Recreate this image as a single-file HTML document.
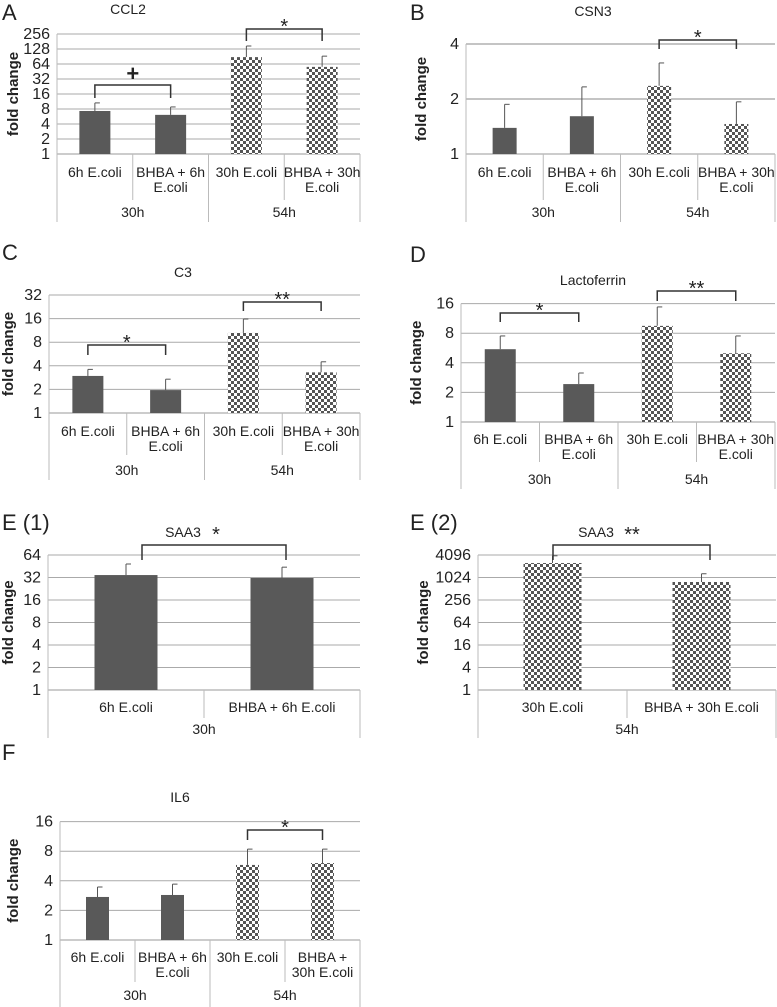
<!DOCTYPE html>
<html><head><meta charset="utf-8">
<style>
html,body{margin:0;padding:0;background:#fff;}
svg{display:block;font-family:"Liberation Sans",Arial,sans-serif;}
</style></head>
<body>
<svg id="fig" width="777" height="1007" viewBox="0 0 777 1007" xmlns="http://www.w3.org/2000/svg">
<defs>
<pattern id="chk" width="6" height="6" patternUnits="userSpaceOnUse">
<rect width="6" height="6" fill="#fff"/>
<rect x="0" y="0" width="3" height="3" fill="#555"/>
<rect x="3" y="3" width="3" height="3" fill="#555"/>
</pattern>
</defs>
</svg>
<script>
// ---- data ----
const catsFour = ["6h E.coli|", "BHBA + 6h|E.coli", "30h E.coli|", "BHBA + 30h|E.coli"];
const catsF = ["6h E.coli|", "BHBA + 6h|E.coli", "30h E.coli|", "BHBA +|30h E.coli"];
const groupsFour = ["30h", "54h"];
const ccl2Values = [7.3, 6.1, 88, 56];
const ccl2ErrTops = [10.6, 8.8, 147, 92];
const ccl2Ticks = [1, 2, 4, 8, 16, 32, 64, 128, 256];
const csn3Values = [1.39, 1.61, 2.36, 1.46];
const csn3ErrTops = [1.87, 2.33, 3.15, 1.93];
const csn3Ticks = [1, 2, 4];
const c3Values = [2.97, 1.96, 10.5, 3.3];
const c3ErrTops = [3.6, 2.7, 15.8, 4.5];
const c3Ticks = [1, 2, 4, 8, 16, 32];
const ltfValues = [5.5, 2.43, 9.5, 5.0];
const ltfErrTops = [7.5, 3.15, 14.8, 7.5];
const ltfTicks = [1, 2, 4, 8, 16];
const saa3aCats = ["6h E.coli", "BHBA + 6h E.coli"];
const saa3aGroups = ["30h"];
const saa3aValues = [34.5, 31.5];
const saa3aErrTops = [48.5, 44];
const saa3aTicks = [1, 2, 4, 8, 16, 32, 64];
const saa3bCats = ["30h E.coli", "BHBA + 30h E.coli"];
const saa3bGroups = ["54h"];
const saa3bValues = [2496, 776];
const saa3bErrTops = [3900, 1290];
const saa3bTicks = [1, 4, 16, 64, 256, 1024, 4096];
const il6Values = [2.74, 2.87, 5.8, 6.06];
const il6ErrTops = [3.46, 3.7, 8.4, 8.4];
const il6Ticks = [1, 2, 4, 8, 16];

const svg = document.getElementById('fig');
const NS = 'http://www.w3.org/2000/svg';
function mk(tag, attrs, parent) {
  const e = document.createElementNS(NS, tag);
  for (const k in attrs) e.setAttribute(k, attrs[k]);
  (parent || svg).appendChild(e);
  return e;
}
function txt(s, x, y, size, anchor, parent, extra) {
  const t = mk('text', Object.assign({x: x, y: y, 'font-size': size, 'text-anchor': anchor || 'middle', fill: '#222'}, extra || {}), parent);
  t.textContent = s;
  return t;
}

function panel(c) {
  const g = mk('g', {});
  
  
  const lb = Math.log(c.base);
  const y = v => c.y1 - Math.log(v) / lb * c.step;
  const n = c.values.length;
  const bw = (c.x1 - c.x0) / n;
  const cx = i => c.x0 + bw * (i + 0.5);
  const L = txt(c.letter, c.lx, c.ly, 22, 'start', g);
  
  
  const T = txt(c.title, c.tx, c.ty, 14, 'middle', g);
  
  
  if (c.titleStar) {
    const S = txt(c.titleStar, c.sx, c.ty + 4, 20, 'middle', g);
    
    
  }
  c.ticks.forEach(t => {
    const yy = y(t);
    const ln = mk('line', {x1: c.x0, x2: c.gx1 || c.x1, y1: yy, y2: yy, stroke: t === 1 ? '#999' : c.gridColor || '#aaa', 'stroke-width': 1}, g);
    
    
    const tl = txt(String(t), c.x0 - 7, yy + 5, 16, 'end', g);
    
    
  });
  const ax = mk('line', {x1: c.x0, x2: c.x0, y1: y(c.ticks[c.ticks.length - 1]), y2: c.y1, stroke: '#bbb'}, g);
  
  
  const yt = txt('fold change', 0, 0, 15, 'middle', g, {'font-weight': 'bold', transform: 'translate(' + c.ytx + ',' + ((y(c.ticks[c.ticks.length - 1]) + c.y1) / 2) + ') rotate(-90)'});
  
  
  const per = n / c.groups.length;
  for (let i = 0; i <= n; i++) {
    const outer = i % per === 0;
    const ln = mk('line', {x1: c.x0 + bw * i, x2: c.x0 + bw * i, y1: c.y1, y2: outer ? c.frameBottom : c.innerBottom, stroke: '#bbb'}, g);
    
    
  }
  c.cats.forEach((s, i) => {
    const parts = s.split('|');
    const t1 = txt(parts[0], cx(i), c.cy1, 14, 'middle', g);
    
    
    if (parts[1]) {
      const t2 = txt(parts[1], cx(i), c.cy2, 14, 'middle', g);
      
      
    }
  });
  c.groups.forEach((s, k) => {
    const gx = c.x0 + bw * per * (k + 0.5);
    const t = txt(s, gx, c.gy, 14, 'middle', g);
    
    
  });
  c.values.forEach((v, i) => {
    const checked = c.pattern[i];
    const x = cx(i) - c.barW / 2;
    const eb = mk('line', {x1: cx(i), x2: cx(i), y1: y(v), y2: y(c.errs[i]), stroke: '#555', 'stroke-width': 1}, g);
    
    
    const cap = mk('line', {x1: cx(i), x2: cx(i) + 5, y1: y(c.errs[i]), y2: y(c.errs[i]), stroke: '#555', 'stroke-width': 1}, g);
    
    
    const r = mk('rect', {x: x, y: y(v), width: c.barW, height: c.y1 - y(v), fill: checked ? 'url(#chk)' : '#595959'}, g);
    
    
  });
  (c.brackets || []).forEach(b => {
    const xa = b.xa != null ? b.xa : cx(b.i);
    const xb = b.xb != null ? b.xb : cx(b.j);
    const p = mk('path', {d: 'M' + xa + ' ' + b.bot + ' V' + b.y + ' H' + xb + ' V' + b.bot, fill: 'none', stroke: '#333', 'stroke-width': 1.5}, g);
    
    
    if (b.label) {
      const t = txt(b.label, (xa + xb) / 2, b.y - (b.label === '+' ? 4 : -4), b.label === '+' ? 22 : 20, 'middle', g, {'font-weight': b.label === '+' ? 'bold' : 'normal'});
      
      
    }
  });
}

panel({name: 'panel-a-ccl2', letter: 'A', lx: 2, ly: 20, title: 'CCL2', tx: 128, ty: 14,
  x0: 57, x1: 360, y1: 154, step: 15, base: 2, ticks: ccl2Ticks, values: ccl2Values, errs: ccl2ErrTops,
  barW: 31, pattern: [0, 0, 1, 1], cats: catsFour, groups: groupsFour, cy1: 177, cy2: 192, gy: 217,
  frameBottom: 222, innerBottom: 200, ytx: 18,
  brackets: [{i: 0, j: 1, y: 85, bot: 98, label: '+'}, {i: 2, j: 3, y: 29, bot: 41, label: '*'}]});

panel({name: 'panel-b-csn3', letter: 'B', lx: 410, ly: 20, title: 'CSN3', tx: 593, ty: 16,
  x0: 466, x1: 775, y1: 154, step: 55, base: 2, ticks: csn3Ticks, values: csn3Values, errs: csn3ErrTops,
  barW: 24, pattern: [0, 0, 1, 1], cats: catsFour, groups: groupsFour, cy1: 177, cy2: 192, gy: 217,
  frameBottom: 222, innerBottom: 200, ytx: 426, gridColor: '#888',
  brackets: [{i: 2, j: 3, y: 40, bot: 49, label: '*'}]});

panel({name: 'panel-c-c3', letter: 'C', lx: 2, ly: 260, title: 'C3', tx: 183, ty: 277,
  x0: 49, x1: 360, y1: 413, step: 23.6, base: 2, ticks: c3Ticks, values: c3Values, errs: c3ErrTops,
  barW: 31, pattern: [0, 0, 1, 1], cats: catsFour, groups: groupsFour, cy1: 436, cy2: 451, gy: 475,
  frameBottom: 480, innerBottom: 455, ytx: 13,
  brackets: [{i: 0, j: 1, y: 345, bot: 355, label: '*'}, {i: 2, j: 3, y: 302, bot: 311, label: '**'}]});

panel({name: 'panel-d-lactoferrin', letter: 'D', lx: 410, ly: 262, title: 'Lactoferrin', tx: 593, ty: 285,
  x0: 461, x1: 775, y1: 422, step: 29.6, base: 2, ticks: ltfTicks, values: ltfValues, errs: ltfErrTops,
  barW: 31, pattern: [0, 0, 1, 1], cats: catsFour, groups: groupsFour, cy1: 444, cy2: 459, gy: 484,
  frameBottom: 489, innerBottom: 462, ytx: 421,
  brackets: [{i: 0, j: 1, y: 313, bot: 322, label: '*'}, {i: 2, j: 3, y: 291, bot: 301, label: '**'}]});

panel({name: 'panel-e1-saa3', letter: 'E (1)', lx: 2, ly: 530, title: 'SAA3', tx: 183, ty: 537, titleStar: '*', sx: 216,
  x0: 48, x1: 360, y1: 690, step: 22.5, base: 2, ticks: saa3aTicks, values: saa3aValues, errs: saa3aErrTops,
  barW: 63, pattern: [0, 0], cats: saa3aCats, groups: saa3aGroups, cy1: 712, cy2: 0, gy: 734,
  frameBottom: 738, innerBottom: 718, ytx: 13,
  brackets: [{i: 0, j: 1, xa: 142, xb: 286, y: 545, bot: 560, label: ''}]});

panel({name: 'panel-e2-saa3', letter: 'E (2)', lx: 410, ly: 530, title: 'SAA3', tx: 596, ty: 537, titleStar: '**', sx: 632,
  x0: 478, x1: 776, y1: 690, step: 22.5, base: 4, ticks: saa3bTicks, values: saa3bValues, errs: saa3bErrTops,
  barW: 58, pattern: [1, 1], cats: saa3bCats, groups: saa3bGroups, cy1: 712, cy2: 0, gy: 734,
  frameBottom: 738, innerBottom: 718, ytx: 428,
  brackets: [{i: 0, j: 1, xa: 553, xb: 710, y: 545, bot: 560, label: ''}]});

panel({name: 'panel-f-il6', letter: 'F', lx: 2, ly: 760, title: 'IL6', tx: 180, ty: 802,
  x0: 60, x1: 360, y1: 940, step: 29.6, base: 2, ticks: il6Ticks, values: il6Values, errs: il6ErrTops,
  barW: 23, pattern: [0, 0, 1, 1], cats: catsF, groups: groupsFour, cy1: 962, cy2: 977, gy: 1000,
  frameBottom: 1007, innerBottom: 982, ytx: 18,
  brackets: [{i: 2, j: 3, y: 830, bot: 840, label: '*'}]});
</script>
</body></html>
